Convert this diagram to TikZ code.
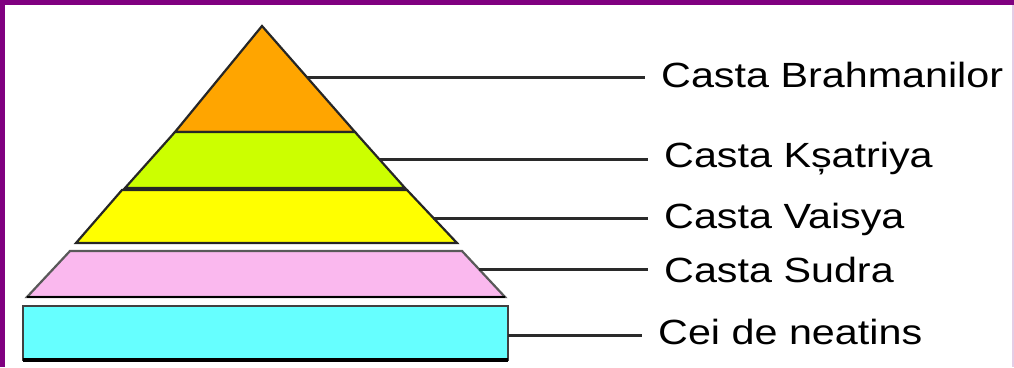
\documentclass[tikz,border=0pt]{standalone}
\usepackage{fontspec}
\setmainfont{Liberation Sans}
\usepackage{graphicx}
\definecolor{brd}{HTML}{800080}
\definecolor{cOrange}{HTML}{FFA500}
\definecolor{cLime}{HTML}{CCFF00}
\definecolor{cYellow}{HTML}{FFFF00}
\definecolor{cPink}{HTML}{FAB8EE}
\definecolor{cCyan}{HTML}{66FFFF}
\definecolor{lineC}{HTML}{2A2A2A}
\tikzset{
  band/.style={draw=black!85, line width=2.2pt, line join=miter},
  conn/.style={draw=lineC, line width=3pt, shorten >=16pt},
  lbl/.style={anchor=base west, inner sep=0pt, font=\fontsize{35}{42}\selectfont}
}
\newcommand{\wide}[1]{\scalebox{1.18}[1]{#1}}
\begin{document}
\begin{tikzpicture}[x=1pt,y=-1pt]
\useasboundingbox (0,0) rectangle (1014,367);
\fill[white] (0,0) rectangle (1014,367);
% border
\fill[brd] (0,0) rectangle (1014,4.5);
\fill[brd] (0,0) rectangle (4.5,367);
\fill[brd!20] (1012,4.5) rectangle (1014,367);
% pyramid bands
\path[band, fill=cOrange] (262,26) -- (355,132) -- (175,132) -- cycle;
\path[band, fill=cLime] (175,132) -- (355,132) -- (405,188) -- (125,188) -- cycle;
\path[band, fill=cYellow] (122,190) -- (407,190) -- (457,243) -- (76,243) -- cycle;
\path[band, fill=cPink, draw=black!65] (70,251) -- (462,251) -- (505,297) -- (27,297) -- cycle;
\draw[black, line width=2.4pt] (27,297) -- (505,297);
\path[band, fill=cCyan, draw=black!75] (23,306) rectangle (508,360);
\draw[black, line width=3.5pt] (23,360) -- (508,360);
% attachment points
\coordinate (p1) at (307,77);
\coordinate (p2) at (379,159);
\coordinate (p3) at (433,218);
\coordinate (p4) at (479,269);
\coordinate (p5) at (508,335);
% labels
\node[lbl] (t1) at (661,87) {\wide{Casta Brahmanilor}};
\node[lbl] (t2) at (664,167) {\wide{Casta Kșatriya}};
\node[lbl] (t3) at (664,228) {\wide{Casta Vaisya}};
\node[lbl] (t4) at (664,282) {\wide{Casta Sudra}};
\node[lbl] (t5) at (658,344) {\wide{Cei de neatins}};
% connectors
\draw[conn] (p1) -- (p1 -| t1.west);
\draw[conn] (p2) -- (p2 -| t2.west);
\draw[conn] (p3) -- (p3 -| t3.west);
\draw[conn] (p4) -- (p4 -| t4.west);
\draw[conn] (p5) -- (p5 -| t5.west);
\end{tikzpicture}
\end{document}
